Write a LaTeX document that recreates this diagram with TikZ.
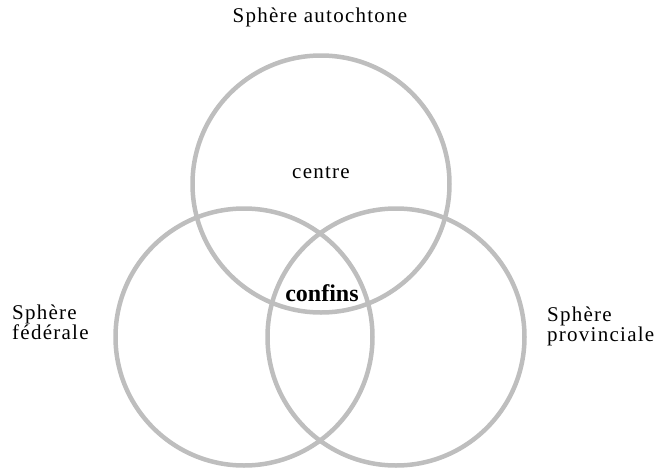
\documentclass[tikz,border=0pt]{standalone}
\usepackage{fontspec}
\setmainfont{Liberation Serif}
\usetikzlibrary{positioning}
\definecolor{ringgray}{RGB}{190,190,190}
\tikzset{
    sphere/.style={circle, draw=ringgray, line width=4.5pt, minimum size=257pt, inner sep=0pt},
    label/.style={align=left, font=\fontsize{21}{20}\selectfont\addfontfeature{LetterSpace=6}, inner sep=0pt},
    core/.style={font=\fontsize{24}{24}\selectfont\bfseries, inner sep=1pt}
}
\begin{document}
\begin{tikzpicture}[x=1pt, y=-1pt]
    \useasboundingbox (0,0) rectangle (657,469);
    \node[sphere] (autoch) at (321,184) {};
    \node[sphere] (federal) at (244,337) {};
    \node[sphere] (provin) at (396,337) {};
    \node[label] (tautoch) at (320,17) {Sphère autochtone};
    \node[label] (centre) at (321,173) {centre};
    \node[core] (confins) at (322,293) {confins};
    \node[label, anchor=west] (tfederal) at (12,322) {Sphère\\fédérale};
    \node[label, anchor=west] (tprovin) at (547,326) {Sphère\\provinciale};
\end{tikzpicture}
\end{document}
